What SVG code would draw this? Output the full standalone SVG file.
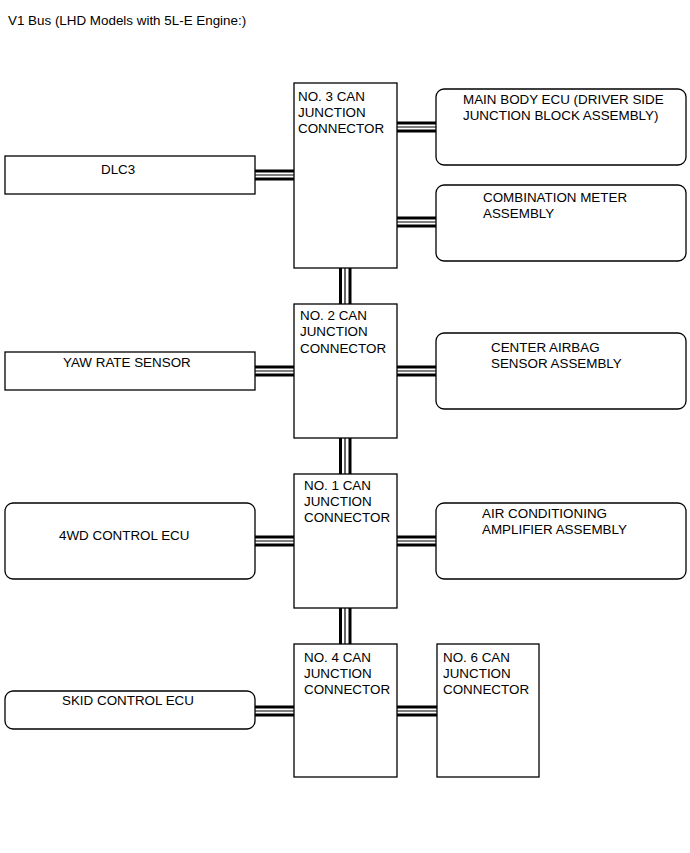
<svg xmlns="http://www.w3.org/2000/svg" width="690" height="853" viewBox="0 0 690 853">
<style>
text{font-family:"Liberation Sans",Arial,sans-serif;font-size:13.4px;fill:#000}
.box{fill:#fff;stroke:#000;stroke-width:1.3}
.thick{stroke:#000;stroke-width:3;fill:none}
.thin{stroke:#000;stroke-width:1.2;fill:none}
</style>
<rect width="690" height="853" fill="#fff"/>
<text x="8" y="25">V1 Bus (LHD Models with 5L-E Engine:)</text>
<g id="connectors">
<g id="c-dlc3"><line class="thick" x1="255" y1="171" x2="294" y2="171"/><line class="thin" x1="255" y1="175" x2="294" y2="175"/><line class="thick" x1="255" y1="179" x2="294" y2="179"/></g>
<g id="c-mainbody"><line class="thick" x1="397" y1="123" x2="436" y2="123"/><line class="thin" x1="397" y1="127" x2="436" y2="127"/><line class="thick" x1="397" y1="131" x2="436" y2="131"/></g>
<g id="c-combi"><line class="thick" x1="397" y1="218" x2="436" y2="218"/><line class="thin" x1="397" y1="222" x2="436" y2="222"/><line class="thick" x1="397" y1="226" x2="436" y2="226"/></g>
<g id="c-yaw"><line class="thick" x1="255" y1="367" x2="294" y2="367"/><line class="thin" x1="255" y1="371" x2="294" y2="371"/><line class="thick" x1="255" y1="375" x2="294" y2="375"/></g>
<g id="c-airbag"><line class="thick" x1="397" y1="367" x2="436" y2="367"/><line class="thin" x1="397" y1="371" x2="436" y2="371"/><line class="thick" x1="397" y1="375" x2="436" y2="375"/></g>
<g id="c-4wd"><line class="thick" x1="255" y1="537" x2="294" y2="537"/><line class="thin" x1="255" y1="541" x2="294" y2="541"/><line class="thick" x1="255" y1="545" x2="294" y2="545"/></g>
<g id="c-ac"><line class="thick" x1="397" y1="537" x2="436" y2="537"/><line class="thin" x1="397" y1="541" x2="436" y2="541"/><line class="thick" x1="397" y1="545" x2="436" y2="545"/></g>
<g id="c-skid"><line class="thick" x1="255" y1="707" x2="294" y2="707"/><line class="thin" x1="255" y1="711" x2="294" y2="711"/><line class="thick" x1="255" y1="715" x2="294" y2="715"/></g>
<g id="c-no6"><line class="thick" x1="397" y1="707" x2="437" y2="707"/><line class="thin" x1="397" y1="711" x2="437" y2="711"/><line class="thick" x1="397" y1="715" x2="437" y2="715"/></g>
<g id="c-3-2"><line class="thick" x1="340.5" y1="268" x2="340.5" y2="304"/><line class="thin" x1="345" y1="268" x2="345" y2="304"/><line class="thick" x1="350" y1="268" x2="350" y2="304"/></g>
<g id="c-2-1"><line class="thick" x1="340.5" y1="438" x2="340.5" y2="474"/><line class="thin" x1="345" y1="438" x2="345" y2="474"/><line class="thick" x1="350" y1="438" x2="350" y2="474"/></g>
<g id="c-1-4"><line class="thick" x1="340.5" y1="608" x2="340.5" y2="644"/><line class="thin" x1="345" y1="608" x2="345" y2="644"/><line class="thick" x1="350" y1="608" x2="350" y2="644"/></g>
</g>
<g id="no3"><rect class="box" x="294" y="83" width="103" height="185"/><text x="298" y="101">NO. 3 CAN</text><text x="298" y="117">JUNCTION</text><text x="298" y="133">CONNECTOR</text></g>
<g id="mainbody"><rect class="box" x="436" y="89" width="250" height="76" rx="8"/><text x="463" y="104">MAIN BODY ECU (DRIVER SIDE</text><text x="463" y="120">JUNCTION BLOCK ASSEMBLY)</text></g>
<g id="combi"><rect class="box" x="436" y="185" width="250" height="76" rx="8"/><text x="483" y="202">COMBINATION METER</text><text x="483" y="218">ASSEMBLY</text></g>
<g id="dlc3"><rect class="box" x="5" y="156" width="250" height="38"/><text x="101" y="174">DLC3</text></g>
<g id="no2"><rect class="box" x="294" y="304" width="103" height="134"/><text x="300" y="320">NO. 2 CAN</text><text x="300" y="336">JUNCTION</text><text x="300" y="353">CONNECTOR</text></g>
<g id="yaw"><rect class="box" x="5" y="352" width="250" height="38"/><text x="63" y="367">YAW RATE SENSOR</text></g>
<g id="airbag"><rect class="box" x="436" y="333" width="250" height="76" rx="8"/><text x="491" y="352">CENTER AIRBAG</text><text x="491" y="368">SENSOR ASSEMBLY</text></g>
<g id="no1"><rect class="box" x="294" y="474" width="103" height="134"/><text x="304" y="490">NO. 1 CAN</text><text x="304" y="506">JUNCTION</text><text x="304" y="522">CONNECTOR</text></g>
<g id="fwd"><rect class="box" x="5" y="503" width="250" height="76" rx="8"/><text x="59" y="540">4WD CONTROL ECU</text></g>
<g id="ac"><rect class="box" x="436" y="503" width="250" height="76" rx="8"/><text x="482" y="518">AIR CONDITIONING</text><text x="482" y="534">AMPLIFIER ASSEMBLY</text></g>
<g id="no4"><rect class="box" x="294" y="644" width="103" height="133"/><text x="304" y="662">NO. 4 CAN</text><text x="304" y="678">JUNCTION</text><text x="304" y="694">CONNECTOR</text></g>
<g id="no6"><rect class="box" x="437" y="644" width="102" height="133"/><text x="443" y="662">NO. 6 CAN</text><text x="443" y="678">JUNCTION</text><text x="443" y="694">CONNECTOR</text></g>
<g id="skid"><rect class="box" x="5" y="691" width="250" height="38" rx="8"/><text x="62" y="705">SKID CONTROL ECU</text></g>
</svg>
